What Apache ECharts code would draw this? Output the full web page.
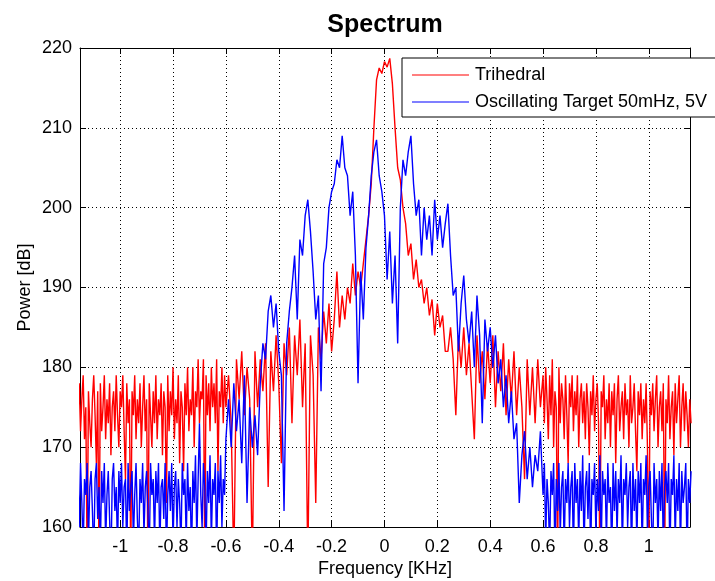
<!DOCTYPE html>
<html>
<head>
<meta charset="utf-8">
<script src="https://cdn.jsdelivr.net/npm/echarts@6/dist/echarts.min.js"></script>
<style>html,body{margin:0;padding:0;background:#fff}#chart{width:715px;height:581px}</style>
</head>
<body>
<div id="chart"></div>
<script>
// Frequency samples [KHz]: fine sampling in the outer bands, coarser in the core
const freqLeft = [
-1.160,-1.155,-1.150,-1.145,-1.140,-1.135,-1.130,-1.125,-1.120,-1.115,
-1.110,-1.105,-1.100,-1.095,-1.090,-1.085,-1.080,-1.075,-1.070,-1.065,
-1.060,-1.055,-1.050,-1.045,-1.040,-1.035,-1.030,-1.025,-1.020,-1.015,
-1.010,-1.005,-1.000,-0.995,-0.990,-0.985,-0.980,-0.975,-0.970,-0.965,
-0.960,-0.955,-0.950,-0.945,-0.940,-0.935,-0.930,-0.925,-0.920,-0.915,
-0.910,-0.905,-0.900,-0.895,-0.890,-0.885,-0.880,-0.875,-0.870,-0.865,
-0.860,-0.855,-0.850,-0.845,-0.840,-0.835,-0.830,-0.825,-0.820,-0.815,
-0.810,-0.805,-0.800,-0.795,-0.790,-0.785,-0.780,-0.775,-0.770,-0.765,
-0.760,-0.755,-0.750,-0.745,-0.740,-0.735,-0.730,-0.725,-0.720,-0.715,
-0.710,-0.705,-0.700,-0.695,-0.690,-0.685,-0.680,-0.675,-0.670,-0.665,
-0.660,-0.655,-0.650,-0.645,-0.640,-0.635,-0.630,-0.625,-0.620,-0.615,
-0.610,-0.605
];
const freqCore = [
-0.60,-0.59,-0.58,-0.57,-0.56,-0.55,-0.54,-0.53,-0.52,-0.51,
-0.50,-0.49,-0.48,-0.47,-0.46,-0.45,-0.44,-0.43,-0.42,-0.41,
-0.40,-0.39,-0.38,-0.37,-0.36,-0.35,-0.34,-0.33,-0.32,-0.31,
-0.30,-0.29,-0.28,-0.27,-0.26,-0.25,-0.24,-0.23,-0.22,-0.21,
-0.20,-0.19,-0.18,-0.17,-0.16,-0.15,-0.14,-0.13,-0.12,-0.11,
-0.10,-0.09,-0.08,-0.07,-0.06,-0.05,-0.04,-0.03,-0.02,-0.01,
0.00,0.01,0.02,0.03,0.04,0.05,0.06,0.07,0.08,0.09,
0.10,0.11,0.12,0.13,0.14,0.15,0.16,0.17,0.18,0.19,
0.20,0.21,0.22,0.23,0.24,0.25,0.26,0.27,0.28,0.29,
0.30,0.31,0.32,0.33,0.34,0.35,0.36,0.37,0.38,0.39,
0.40,0.41,0.42,0.43,0.44,0.45,0.46,0.47,0.48,0.49,
0.50,0.51,0.52,0.53,0.54,0.55,0.56,0.57,0.58,0.59,
0.60
];
const freqRight = [
0.605,0.610,0.615,0.620,0.625,0.630,0.635,0.640,0.645,0.650,
0.655,0.660,0.665,0.670,0.675,0.680,0.685,0.690,0.695,0.700,
0.705,0.710,0.715,0.720,0.725,0.730,0.735,0.740,0.745,0.750,
0.755,0.760,0.765,0.770,0.775,0.780,0.785,0.790,0.795,0.800,
0.805,0.810,0.815,0.820,0.825,0.830,0.835,0.840,0.845,0.850,
0.855,0.860,0.865,0.870,0.875,0.880,0.885,0.890,0.895,0.900,
0.905,0.910,0.915,0.920,0.925,0.930,0.935,0.940,0.945,0.950,
0.955,0.960,0.965,0.970,0.975,0.980,0.985,0.990,0.995,1.000,
1.005,1.010,1.015,1.020,1.025,1.030,1.035,1.040,1.045,1.050,
1.055,1.060,1.065,1.070,1.075,1.080,1.085,1.090,1.095,1.100,
1.105,1.110,1.115,1.120,1.125,1.130,1.135,1.140,1.145,1.150,
1.155,1.160
];

// Trihedral power [dB]
const trihedralLeft = [
174,178,172,176,179,171,175,155,177,173,
170,176,179,174,168,177,155,178,172,175,
179,171,176,173,178,169,175,177,172,179,
174,170,177,175,179,172,166,178,173,176,
155,177,174,179,171,176,173,178,170,175,
179,172,176,155,178,174,170,177,173,179,
171,176,174,178,169,177,175,163,179,172,
177,174,180,171,176,173,179,168,177,175,
167,178,174,180,172,176,174,180,170,177,
175,181,173,177,176,181,155,179,174,178,
172,180,175,178,173,181,167,177,175,180,
173,179
];
const trihedralCore = [
175,179,173,155,181,176,182,174,180,176,
155,182,175,181,177,183,165,182,177,184,
178,168,183,179,185,173,184,179,186,175,
183,155,184,179,163,185,181,187,183,188,
182,186,192,185,189,186,190,188,193,189,
192,190,193,196,199,203,210,216,217.5,216.8,
218.3,217.6,218.7,215.5,210,205,203.5,200,198,194,
195.5,191,193.5,190,191,188,190,186.5,188.5,184,
188,185,186.5,182,182,185,181,174,184,180,
185,179,183,177,171,184,178,182,176,183,
178,184,175,182,177,183,174,181,176,182,
174,180,175,166,181,174,180,173,181,175,
179
];
const trihedralRight = [
173,180,176,171,179,174,181,170,177,175,
155,180,173,178,176,171,179,174,168,178,
175,179,172,177,174,179,170,176,178,173,
177,171,178,175,169,177,174,179,172,176,
178,173,155,177,175,179,171,176,173,178,
170,177,174,178,168,176,179,172,175,177,
171,178,174,176,170,179,173,175,178,172,
167,177,174,178,171,176,173,178,170,155,
177,174,178,172,176,179,170,175,177,172,
178,155,176,173,179,171,175,177,169,178,
173,176,179,170,175,178,172,177,174,170,
176,173
];

// Oscillating Target 50mHz, 5V power [dB]
const oscillatingLeft = [
166,160,168,163,157,166,164,168,158,165,
167,162,156,166,168,161,165,157,167,163,
168,158,164,167,161,155,166,168,162,165,
157,167,163,168,160,165,166,156,168,162,
165,167,158,164,168,161,157,166,163,168,
159,165,167,162,156,168,164,166,158,167,
163,168,157,165,166,161,168,156,164,167,
162,168,158,165,167,160,166,163,157,168,
164,166,158,168,162,165,156,167,163,169,
158,166,173,164,160,168,165,157,167,163,
169,158,166,164,168,156,167,163,169,160,
166,164
];
const oscillatingCore = [
171,176,170,178,172,176,168,179,163,175,
170,174,169,178,183,181,187,189,185,188,
182,179,162,183,187,190,194,186,196,194,
199,201,197,192,186,189,177,193,195,200,
202,203,206,205,209,205,204,199,202,194,
178,192,186,195,199,204,207,208.5,204,202,
199,191,197,188,194,183,200,206,204,207,
209,203,199,201,194,200,196,199,194,201,
196,199,195,198,200.5,194,189,190,182,188,
191.5,186,183,187,180,189,184,173,186,182,
185,180,184,178,181,175,179,173,177,171,
173,163,169,172,166,170,165,169,167,172,
164
];
const oscillatingRight = [
168,158,166,163,157,167,164,168,156,166,
162,168,159,165,167,157,166,163,168,160,
165,167,156,168,163,166,158,167,162,169,
157,165,167,161,168,156,166,164,168,159,
166,162,169,157,167,164,166,158,168,163,
165,156,168,162,167,159,166,163,169,157,
166,164,168,160,165,167,156,168,162,166,
158,167,163,168,157,166,164,169,159,165,
167,161,156,168,163,166,158,167,162,168,
157,165,167,163,168,156,166,164,169,158,
166,162,168,157,167,163,165,168,156,166,
163,167
];

const xTicks = [-1,-0.8,-0.6,-0.4,-0.2,0,0.2,0.4,0.6,0.8,1];
const seriesNames = ['Trihedral','Oscillating Target 50mHz, 5V'];

const FONT = '"Liberation Sans", Arial, sans-serif';
const chart = echarts.init(document.getElementById('chart'), null, {renderer:'canvas'});

const freqKHz = freqLeft.concat(freqCore, freqRight);
const trihedralDB = trihedralLeft.concat(trihedralCore, trihedralRight);
const oscillatingDB = oscillatingLeft.concat(oscillatingCore, oscillatingRight);
function pairs(ys){ return freqKHz.map((f,i)=>[f, ys[i]]); }

const xMin = -1.152, xMax = 1.156;
const commonTick = {show:true, inside:true, length:6, lineStyle:{color:'#000', width:1}};
const LINE_ICON = 'path://M0,0 L57,0 L57,1.2 L0,1.2 Z';

chart.setOption({
  animation:false,
  backgroundColor:'#fff',
  title:{
    text:'Spectrum', left:380, top:8, textAlign:'center',
    textStyle:{fontFamily:FONT, fontSize:25, fontWeight:'bold', color:'#000'}
  },
  legend:{
    orient:'vertical', left:402, top:58,
    padding:[8,40,6,10], itemGap:9, itemWidth:57, itemHeight:18,
    symbolKeepAspect:true,
    backgroundColor:'#fff', borderColor:'#000', borderWidth:1, borderRadius:0,
    textStyle:{fontFamily:FONT, fontSize:18, color:'#000', padding:[0,0,0,1]},
    data:[
      {name:seriesNames[0], icon:LINE_ICON, itemStyle:{color:'#ff0000'}},
      {name:seriesNames[1], icon:LINE_ICON, itemStyle:{color:'#0000ff'}}
    ]
  },
  grid:{left:80, right:25, top:48, bottom:54, containLabel:false, outerBoundsMode:'none'},
  xAxis:[{
    type:'value', min:xMin, max:xMax, position:'bottom',
    name:'Frequency [KHz]', nameLocation:'middle', nameGap:33, nameMoveOverlap:false,
    nameTextStyle:{fontFamily:FONT, fontSize:18, color:'#000'},
    axisLine:{show:true, onZero:false, lineStyle:{color:'#000', width:1}},
    axisTick:Object.assign({customValues:xTicks}, commonTick),
    axisLabel:{customValues:xTicks, margin:11, fontFamily:FONT, fontSize:18, color:'#000'},
    splitLine:{show:true, lineStyle:{color:'#000', width:1, type:[1,3]}}
  },{
    type:'value', min:xMin, max:xMax, position:'top',
    axisLine:{show:true, onZero:false, lineStyle:{color:'#000', width:1}},
    axisTick:Object.assign({customValues:xTicks}, commonTick),
    axisLabel:{show:false}, splitLine:{show:false}
  }],
  yAxis:[{
    type:'value', min:160, max:220, interval:10, position:'left',
    name:'Power [dB]', nameLocation:'middle', nameGap:46, nameRotate:90, nameMoveOverlap:false,
    nameTextStyle:{fontFamily:FONT, fontSize:18, color:'#000'},
    axisLine:{show:true, onZero:false, lineStyle:{color:'#000', width:1}},
    axisTick:commonTick,
    axisLabel:{margin:8, fontFamily:FONT, fontSize:18, color:'#000'},
    splitLine:{show:true, lineStyle:{color:'#000', width:1, type:[1,3]}}
  },{
    type:'value', min:160, max:220, interval:10, position:'right',
    axisLine:{show:true, onZero:false, lineStyle:{color:'#000', width:1}},
    axisTick:commonTick, axisLabel:{show:false}, splitLine:{show:false}
  }],
  series:[{
    name:seriesNames[0], type:'line', data:pairs(trihedralDB),
    symbol:'none', clip:true, lineStyle:{color:'#ff0000', width:1.4}, itemStyle:{color:'#ff0000'}
  },{
    name:seriesNames[1], type:'line', data:pairs(oscillatingDB),
    symbol:'none', clip:true, lineStyle:{color:'#0000ff', width:1.4}, itemStyle:{color:'#0000ff'}
  }]
});
</script>
</body>
</html>
